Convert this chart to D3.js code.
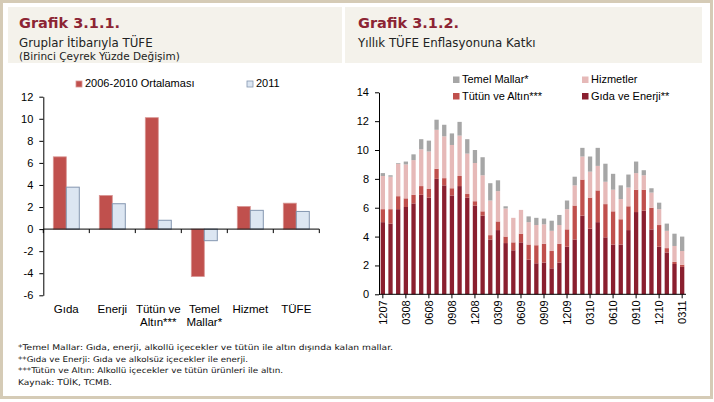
<!DOCTYPE html>
<html><head><meta charset="utf-8">
<script src="https://cdn.jsdelivr.net/npm/d3@7"></script>
<style>
body{margin:0;background:#fff;}
svg{display:block;}
</style></head>
<body><svg id="c" width="714" height="402"></svg>
<script>
// ---------- Data: left chart ----------
const leftCategories = [["Gıda"],["Enerji"],["Tütün ve","Altın***"],["Temel","Mallar*"],["Hizmet"],["TÜFE"]];
const leftSeriesNames = ["2006-2010 Ortalaması","2011"];
const avg0610 = [6.55, 3.05, 10.1, -4.3, 2.05, 2.35];
const val2011 = [3.8, 2.3, 0.8, -1.05, 1.7, 1.6];
const leftTicks = [-6,-4,-2,0,2,4,6,8,10,12];

// ---------- Data: right chart ----------
const periods = ["1207","0108","0208","0308","0408","0508","0608","0708","0808","0908","1008","1108","1208",
 "0109","0209","0309","0409","0509","0609","0709","0809","0909","1009","1109","1209",
 "0110","0210","0310","0410","0510","0610","0710","0810","0910","1010","1110","1210",
 "0111","0211","0311"];
const periodTickLabels = ["1207","0308","0608","0908","1208","0309","0609","0909","1209","0310","0610","0910","1210","0311"];
const gidaEnerji = [5.0,4.9,5.9,6.05,6.3,6.9,6.7,8.0,7.55,6.85,7.5,6.7,6.15,
 5.45,3.8,4.45,3.55,3.05,3.6,2.4,2.15,2.2,1.8,2.2,3.3,
 3.8,5.45,4.55,5.0,3.95,3.45,3.45,4.45,5.7,5.8,4.5,3.3,
 2.9,2.1,1.9];
const tutunAltin = [0.9,1.0,0.9,0.6,0.6,0.6,0.6,0.7,0.5,0.5,0.7,0.25,0.3,
 0.3,0.3,0.6,0.45,0.55,0.6,1.05,1.25,1.3,1.2,1.3,1.2,
 2.35,2.5,2.15,2.2,2.3,2.3,1.75,1.65,1.55,1.45,1.5,1.5,
 0.3,0.15,0.15];
const hizmetler = [2.3,2.25,2.25,2.35,2.4,2.55,2.6,2.7,2.9,3.0,2.8,2.8,2.65,
 2.5,2.4,2.1,1.95,1.7,1.65,1.55,1.4,1.35,1.4,1.3,1.4,
 1.4,1.6,1.8,1.7,1.55,1.5,1.4,1.3,1.15,1.0,1.05,1.1,
 1.2,1.1,0.95];
const temelMallar = [0.2,0.1,0.05,0.2,0.4,0.7,0.75,0.7,0.8,0.8,0.95,1.0,0.9,
 1.25,1.2,0.75,0.15,0.0,0.0,0.4,0.5,0.4,0.7,0.7,0.6,
 0.6,0.6,1.05,1.25,1.25,1.1,0.95,0.9,0.8,0.35,0.3,0.45,
 0.5,0.85,1.0];
const rightSeriesNames = ["Gıda ve Enerji**","Tütün ve Altın***","Hizmetler","Temel Mallar*"];
const rightTicks = [0,2,4,6,8,10,12,14];

const footnotes = [
 "*Temel Mallar: Gıda, enerji, alkollü içecekler ve tütün ile altın dışında kalan mallar.",
 "**Gıda ve Enerji: Gıda ve alkolsüz içecekler ile enerji.",
 "***Tütün ve Altın: Alkollü içecekler ve tütün ürünleri ile altın.",
 "Kaynak: TÜİK, TCMB."
];

// ---------- Styles ----------
const RED = "#C0504D", LBLUE = "#DCE6F2", LBLUE_S = "#8496B0";
const rightColors = ["#8A1F2F", "#C0504D", "#E6B9B8", "#A6A6A6"];
const AX = "Liberation Sans, Arial, sans-serif";
const HF = "DejaVu Sans, sans-serif";
const fmt = d => String(d);

const svg = d3.select("#c");

// frame and header backgrounds
svg.append("rect").attr("x",1.5).attr("y",1.5).attr("width",710).attr("height",396)
  .attr("fill","#fff").attr("stroke","#D5CBB6").attr("stroke-width",3);
svg.append("rect").attr("x",8).attr("y",7).attr("width",334).attr("height",56).attr("fill","#F4F2EB");
svg.append("rect").attr("x",345).attr("y",7).attr("width",357).attr("height",56).attr("fill","#F4F2EB");

function header(x, title, sub, sub2){
  svg.append("text").attr("x",x).attr("y",28).attr("font-family",HF).attr("font-weight","bold")
    .attr("font-size",14.5).attr("fill","#8C2434").text(title);
  svg.append("text").attr("x",x).attr("y",47).attr("font-family",HF)
    .attr("font-size",11.8).attr("fill","#222").text(sub);
  if(sub2) svg.append("text").attr("x",x).attr("y",60).attr("font-family",HF)
    .attr("font-size",10.5).attr("fill","#222").text(sub2);
}
header(19,"Grafik 3.1.1.","Gruplar İtibarıyla TÜFE","(Birinci Çeyrek Yüzde Değişim)");
header(358,"Grafik 3.1.2.","Yıllık TÜFE Enflasyonuna Katkı");

// ---------- Left chart ----------
const ly = d3.scaleLinear().domain([-6,12]).range([295.3,96.7]);
const lx = d3.scaleBand().domain(d3.range(leftCategories.length)).range([43.3,319.3]);
const lsub = d3.scaleBand().domain([0,1]).range([0,lx.bandwidth()]).paddingOuter(0.77);

const lg = svg.append("g");
const leftData = [avg0610, val2011];
leftData.forEach((arr,si)=>{
  lg.selectAll(null).data(arr).enter().append("rect")
    .attr("x",(d,i)=>lx(i)+lsub(si))
    .attr("width",lsub.bandwidth())
    .attr("y",d=>ly(Math.max(0,d)))
    .attr("height",d=>Math.abs(ly(d)-ly(0)))
    .attr("fill",si===0?RED:LBLUE)
    .attr("stroke",si===0?"#D99694":LBLUE_S)
    .attr("stroke-width",si===0?0.8:1);
});
// y axis
const lyAxis = d3.axisLeft(ly).tickValues(leftTicks).tickFormat(fmt).tickSize(4).tickSizeOuter(0);
const lyg = svg.append("g").attr("transform","translate(43.3,0)").call(lyAxis);
lyg.selectAll("text").attr("font-family",AX).attr("font-size",11).attr("fill","#000").attr("x",-10);
lyg.select(".domain").attr("stroke","#000");
lyg.selectAll("line").attr("stroke","#000");
// x axis at 0
const lxg = svg.append("g").attr("transform",`translate(0,${ly(0)})`);
lxg.append("line").attr("x1",43.3).attr("x2",319.3).attr("stroke","#000");
lxg.selectAll(null).data(d3.range(leftCategories.length+1)).enter().append("line")
  .attr("x1",i=>43.3+i*lx.step()).attr("x2",i=>43.3+i*lx.step()).attr("y1",0).attr("y2",4).attr("stroke","#000");
// category labels
leftCategories.forEach((lines,i)=>{
  lines.forEach((t,j)=>{
    svg.append("text").attr("x",lx(i)+lx.bandwidth()/2).attr("y",313+j*12.5)
      .attr("text-anchor","middle").attr("font-family",AX).attr("font-size",11.5).attr("fill","#000").text(t);
  });
});
// legend
const lleg = [[76,leftSeriesNames[0],RED,"#D99694"],[247,leftSeriesNames[1],LBLUE,LBLUE_S]];
lleg.forEach(([x,t,f,s])=>{
  svg.append("rect").attr("x",x).attr("y",81).attr("width",6).attr("height",6).attr("fill",f).attr("stroke",s).attr("stroke-width",0.8);
  svg.append("text").attr("x",x+9).attr("y",87).attr("font-family",AX).attr("font-size",11).attr("fill","#000").text(t);
});

// ---------- Right chart ----------
const ry = d3.scaleLinear().domain([0,14]).range([294.3,92.3]);
const rx = d3.scaleBand().domain(periods).range([379,686]).paddingInner(0.44).paddingOuter(0.22);
const stackInput = periods.map((p,i)=>({p, a:gidaEnerji[i], b:tutunAltin[i], c:hizmetler[i], d:temelMallar[i]}));
const stack = d3.stack().keys(["a","b","c","d"])(stackInput);
const rg = svg.append("g");
stack.forEach((layer,li)=>{
  rg.selectAll(null).data(layer).enter().append("rect")
    .attr("x",d=>rx(d.data.p)).attr("width",rx.bandwidth())
    .attr("y",d=>ry(d[1])).attr("height",d=>Math.max(0,ry(d[0])-ry(d[1])))
    .attr("fill",rightColors[li]);
});
const ryAxis = d3.axisLeft(ry).tickValues(rightTicks).tickFormat(fmt).tickSize(4).tickSizeOuter(0);
const ryg = svg.append("g").attr("transform","translate(379,0)").call(ryAxis);
ryg.selectAll("text").attr("font-family",AX).attr("font-size",11).attr("fill","#000").attr("x",-10);
ryg.select(".domain").attr("stroke","#000");
ryg.selectAll("line").attr("stroke","#000");
const rxAxis = d3.axisBottom(rx).tickValues(periodTickLabels).tickSize(4).tickSizeOuter(0);
const rxg = svg.append("g").attr("transform",`translate(0,${ry(0)})`).call(rxAxis);
rxg.select(".domain").attr("stroke","#000").attr("d","M379,0H686");
rxg.selectAll("line").attr("stroke","#000");
rxg.selectAll("text").attr("font-family",AX).attr("font-size",11).attr("fill","#000")
  .attr("transform","rotate(-90)").attr("text-anchor","end").attr("x",-6).attr("y",0).attr("dy","0.35em");
// legend
const rleg = [[453,76.5,rightSeriesNames[3],rightColors[3]],[582,76.5,rightSeriesNames[2],rightColors[2]],
              [453,93,rightSeriesNames[1],rightColors[1]],[582,93,rightSeriesNames[0],rightColors[0]]];
rleg.forEach(([x,y,t,f])=>{
  svg.append("rect").attr("x",x).attr("y",y).attr("width",6.5).attr("height",6.5).attr("fill",f);
  svg.append("text").attr("x",x+9).attr("y",y+6.5).attr("font-family",AX).attr("font-size",11).attr("fill","#000").text(t);
});

// ---------- Footnotes ----------
const fnWidths = [375, 230, 265, 94];
footnotes.forEach((t,i)=>{
  svg.append("text").attr("x",18).attr("y",350+i*11.7).attr("font-family",HF).attr("font-size",7.8)
    .attr("fill","#111").attr("textLength",fnWidths[i]).attr("lengthAdjust","spacingAndGlyphs").text(t);
});
</script></body></html>
